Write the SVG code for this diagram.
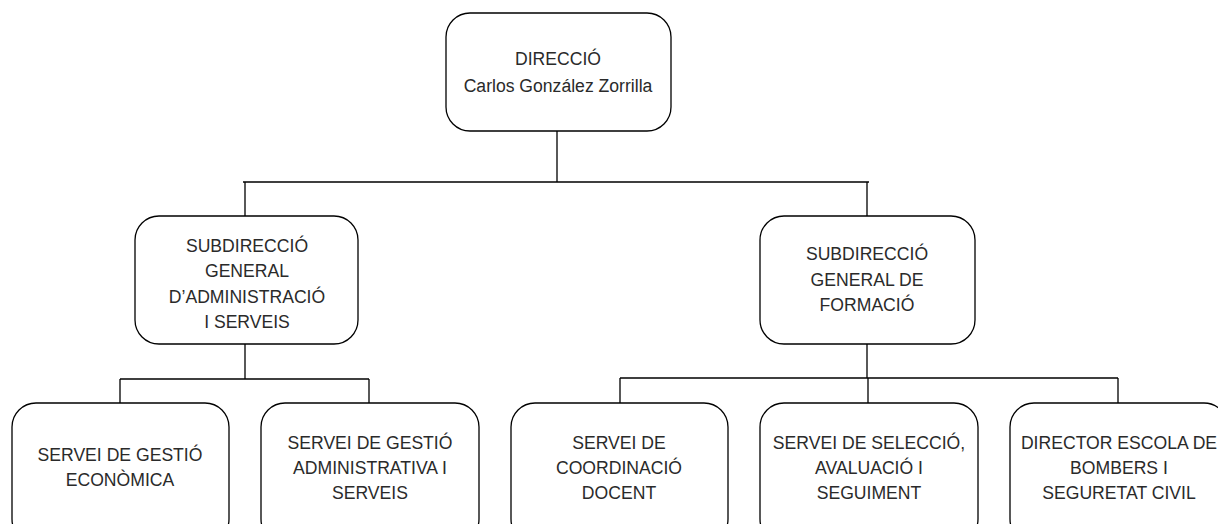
<svg xmlns="http://www.w3.org/2000/svg" width="1218" height="524" viewBox="0 0 1218 524">
<style>
.box{fill:#fff;stroke:#000;stroke-width:1.3}
.t{font-family:"Liberation Sans",Arial,sans-serif;font-size:17.6px;fill:#2a2a2a;text-anchor:middle}
.c{fill:none;stroke:#000;stroke-width:1.3}
</style>
<rect width="1218" height="524" fill="#fff"/>
<g id="connectors">
<path class="c" d="M557 131V182M243 182H869M245 182V216M867 182V216"/>
<path class="c" d="M245 344V379M120 379H369M120 379V403M369 379V403"/>
<path class="c" d="M867 344V378M620 378H1118M620 378V403M868 378V403M1118 378V403"/>
</g>
<g id="n0"><rect class="box" x="446" y="13" width="225" height="118" rx="24"/>
<text class="t" x="558" y="65">DIRECCIÓ</text><text class="t" x="558" y="92">Carlos González Zorrilla</text></g>
<g id="n1"><rect class="box" x="135" y="216" width="223" height="128" rx="24"/>
<text class="t" x="247" y="252">SUBDIRECCIÓ</text><text class="t" x="247" y="277">GENERAL</text><text class="t" x="247" y="303">D’ADMINISTRACIÓ</text><text class="t" x="247" y="328">I SERVEIS</text></g>
<g id="n2"><rect class="box" x="760" y="216" width="215" height="128" rx="24"/>
<text class="t" x="867" y="260">SUBDIRECCIÓ</text><text class="t" x="867" y="286">GENERAL DE</text><text class="t" x="867" y="311">FORMACIÓ</text></g>
<g id="n3"><rect class="box" x="12" y="403" width="217" height="140" rx="24"/>
<text class="t" x="120" y="461">SERVEI DE GESTIÓ</text><text class="t" x="120" y="486">ECONÒMICA</text></g>
<g id="n4"><rect class="box" x="261" y="403" width="218" height="140" rx="24"/>
<text class="t" x="370" y="449">SERVEI DE GESTIÓ</text><text class="t" x="370" y="474">ADMINISTRATIVA I</text><text class="t" x="370" y="499">SERVEIS</text></g>
<g id="n5"><rect class="box" x="511" y="403" width="217" height="140" rx="24"/>
<text class="t" x="619" y="449">SERVEI DE</text><text class="t" x="619" y="474">COORDINACIÓ</text><text class="t" x="619" y="499">DOCENT</text></g>
<g id="n6"><rect class="box" x="760" y="403" width="218" height="140" rx="24"/>
<text class="t" x="869" y="449">SERVEI DE SELECCIÓ,</text><text class="t" x="869" y="474">AVALUACIÓ I</text><text class="t" x="869" y="499">SEGUIMENT</text></g>
<g id="n7"><rect class="box" x="1010" y="403" width="218" height="140" rx="24"/>
<text class="t" x="1119" y="449">DIRECTOR ESCOLA DE</text><text class="t" x="1119" y="474">BOMBERS I</text><text class="t" x="1119" y="499">SEGURETAT CIVIL</text></g>
</svg>
